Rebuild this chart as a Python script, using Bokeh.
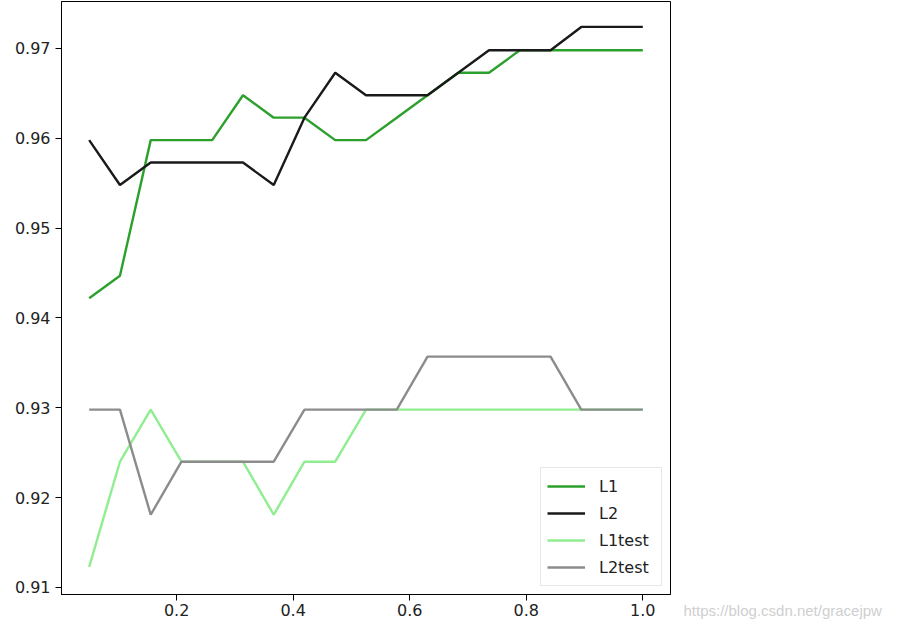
import numpy as np
from bokeh.plotting import figure
from bokeh.models import Range1d, FixedTicker, PrintfTickFormatter, Legend, LegendItem, Label
from bokeh.embed import file_html
from bokeh.resources import INLINE

x = [0.05, 0.1028, 0.1556, 0.2083, 0.2611, 0.3139, 0.3667, 0.4194, 0.4722, 0.525,
     0.5778, 0.6306, 0.6833, 0.7361, 0.7889, 0.8417, 0.8944, 0.9472, 1.0]

l1 = [0.9422, 0.9447, 0.9598, 0.9598, 0.9598, 0.9648, 0.9623, 0.9623, 0.9598, 0.9598,
      0.9623, 0.9648, 0.9673, 0.9673, 0.9698, 0.9698, 0.9698, 0.9698, 0.9698]
l2 = [0.9598, 0.9548, 0.9573, 0.9573, 0.9573, 0.9573, 0.9548, 0.9623, 0.9673, 0.9648,
      0.9648, 0.9648, 0.9673, 0.9698, 0.9698, 0.9698, 0.9724, 0.9724, 0.9724]
l1test = [0.9123, 0.9240, 0.9298, 0.9240, 0.9240, 0.9240, 0.9181, 0.9240, 0.9240, 0.9298,
          0.9298, 0.9298, 0.9298, 0.9298, 0.9298, 0.9298, 0.9298, 0.9298, 0.9298]
l2test = [0.9298, 0.9298, 0.9181, 0.9240, 0.9240, 0.9240, 0.9240, 0.9298, 0.9298, 0.9298,
          0.9298, 0.9357, 0.9357, 0.9357, 0.9357, 0.9357, 0.9298, 0.9298, 0.9298]

x_ticks = [0.2, 0.4, 0.6, 0.8, 1.0]
y_ticks = [0.91, 0.92, 0.93, 0.94, 0.95, 0.96, 0.97]

series = [("L1", l1, "#2ca02c"), ("L2", l2, "#1a1a1a"),
          ("L1test", l1test, "#90ee90"), ("L2test", l2test, "#8c8c8c")]

watermark = "https://blog.csdn.net/gracejpw"

p = figure(frame_width=609, frame_height=593, output_backend="svg", toolbar_location=None,
           x_range=Range1d(0.0025, 1.0475), y_range=Range1d(0.90922, 0.97523),
           min_border_left=61, min_border_right=220, min_border_top=1, min_border_bottom=30,
           background_fill_color="white", border_fill_color="white")
p.grid.visible = False
p.outline_line_color = "black"
p.outline_line_width = 1

for ax, ticks, fmt in ((p.xaxis, x_ticks, "%.1f"), (p.yaxis, y_ticks, "%.2f")):
    ax.ticker = FixedTicker(ticks=ticks)
    ax.formatter = PrintfTickFormatter(format=fmt)
    ax.major_tick_in = 0
    ax.major_tick_out = 6
    ax.minor_tick_line_color = None
    ax.axis_line_color = "black"
    ax.major_tick_line_color = "black"
    ax.major_label_text_font = "DejaVu Sans"
    ax.major_label_text_font_size = "16px"
    ax.major_label_text_color = "#222222"
p.xaxis.major_label_standoff = 3
p.yaxis.major_label_standoff = 5

items = []
for name, ys, col in series:
    r = p.line(x, ys, line_color=col, line_width=2.4)
    items.append(LegendItem(label=name, renderers=[r]))

legend = Legend(items=items, location="bottom_right", margin=8, padding=6,
                spacing=3, label_height=24, glyph_height=24, glyph_width=38, label_width=56,
                label_standoff=14, label_text_font="DejaVu Sans", label_text_font_size="16px",
                label_text_color="#222222", border_line_color="#d0d0d0", border_line_width=1,
                background_fill_alpha=0.9)
p.add_layout(legend)

wm = Label(x=13, y=-24, x_units="screen", y_units="screen",
           text=watermark, text_font="Liberation Sans",
           text_font_size="15px", text_color="#cfcfcf")
p.add_layout(wm, "right")

open("out.html", "w").write(file_html(p, INLINE))
